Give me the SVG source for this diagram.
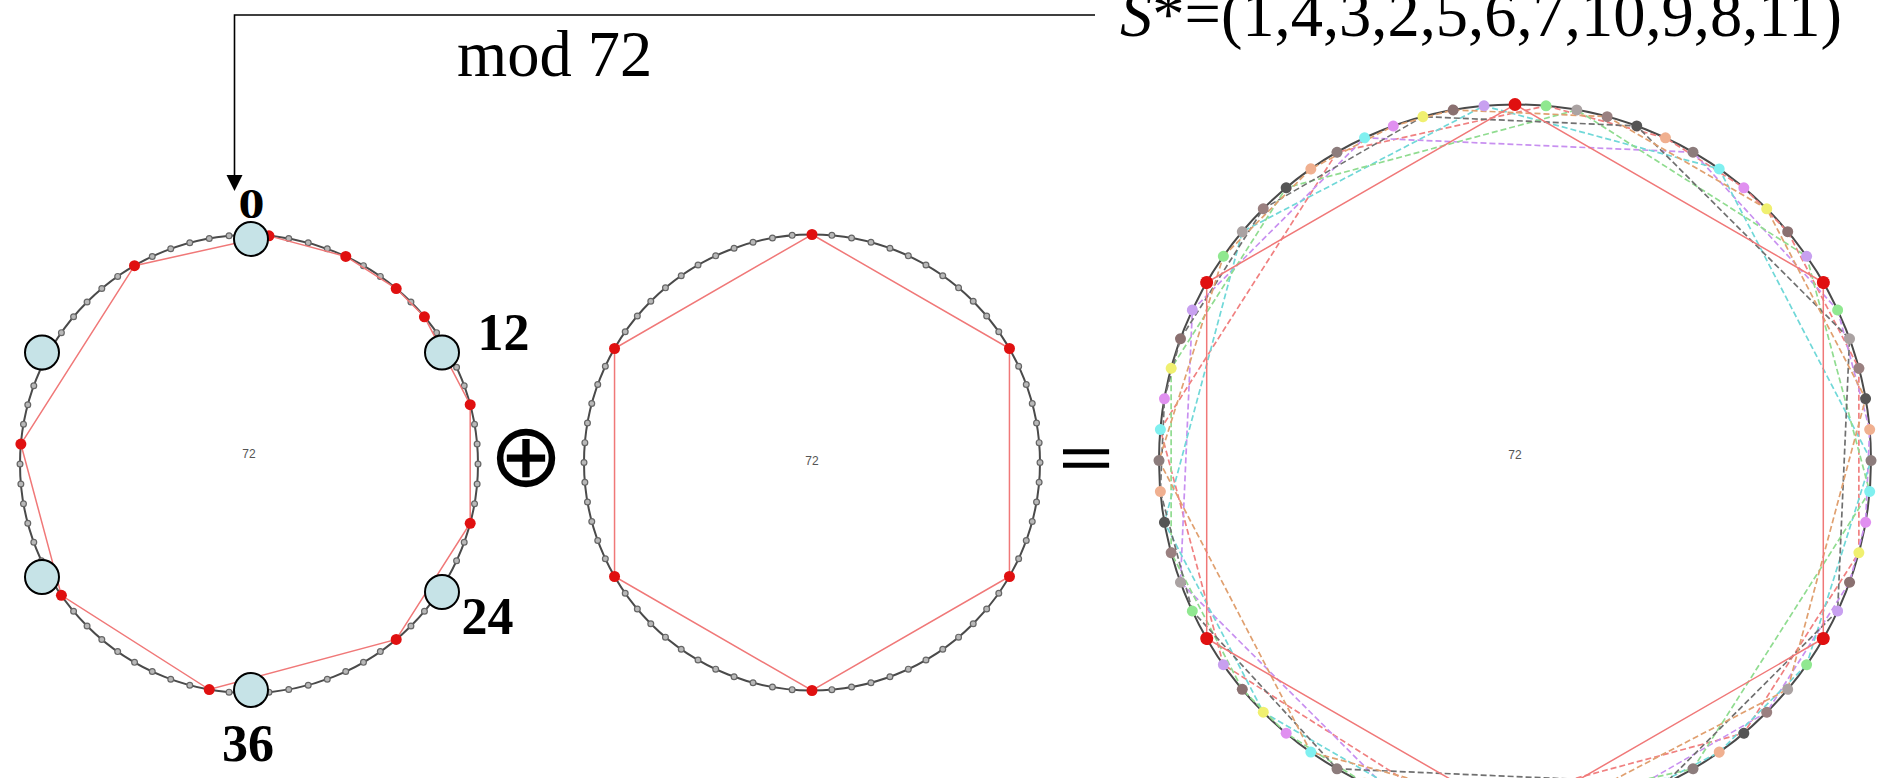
<svg xmlns="http://www.w3.org/2000/svg" xmlns:xlink="http://www.w3.org/1999/xlink" width="1887" height="778" viewBox="0 0 1887 778">
<style>
.ring{fill:none;stroke:#4a4a4a;stroke-width:2}
.gdo{fill:none;stroke:#666;stroke-width:7;stroke-linecap:round;stroke-dasharray:0 1}
.gdi{fill:none;stroke:#b8b8b8;stroke-width:4.6;stroke-linecap:round;stroke-dasharray:0 1}
.red{fill:#e01010}
.poly{fill:none;stroke:#f07878;stroke-width:1.5}
.node{fill:#c6e3e7;stroke:#000;stroke-width:2}
.lbl{font-family:"Liberation Serif","Times New Roman",serif;font-weight:bold;font-size:52px;text-anchor:middle;fill:#000}
.big{font-family:"Liberation Serif","Times New Roman",serif;font-size:64.5px;fill:#000}
.c72{font-family:"Liberation Sans",Arial,sans-serif;font-size:12px;fill:#555;text-anchor:middle}
.cp{fill:none;stroke-width:1.7;stroke-dasharray:6 3}
.conn{fill:none;stroke:#000;stroke-width:1.6}
</style>
<defs>
<polygon id="pr" fill="none" points="1546.03,105.86 1665.45,137.85 1743.83,187.79 1787.71,231.67 1858.87,368.36 1858.87,552.64 1743.83,733.21 1453.18,811.09 1223.38,664.69 1160.36,429.47 1337,152.19"/>
</defs>
<rect width="1887" height="778" fill="#fff"/>

<g id="connectors">
<path class="conn" d="M1095,15 H234.5 V176"/>
<path d="M226.5,175 L242.5,175 L234.5,191 Z" fill="#000"/>
</g>

<g id="title-labels">
<text class="big" x="457" y="76">mod 72</text>
<text class="big" x="1120" y="36"><tspan font-style="italic">S</tspan>*=(1,4,3,2,5,6,7,10,9,8,11)</text>
</g>

<g id="left-circle">
<circle class="ring" cx="249" cy="464" r="229"/>
<circle class="gdo" cx="249" cy="464" r="229" pathLength="72"/>
<circle class="gdi" cx="249" cy="464" r="229" pathLength="72"/>
<polygon class="poly" points="268.96,235.87 345.78,256.46 396.2,288.58 424.42,316.8 470.2,404.73 470.2,523.27 396.2,639.42 209.23,689.52 61.41,595.35 20.87,444.04 134.5,265.68"/>
<g class="red">
<circle cx="268.96" cy="235.87" r="5.5"/><circle cx="345.78" cy="256.46" r="5.5"/><circle cx="396.2" cy="288.58" r="5.5"/><circle cx="424.42" cy="316.8" r="5.5"/><circle cx="470.2" cy="404.73" r="5.5"/><circle cx="470.2" cy="523.27" r="5.5"/><circle cx="396.2" cy="639.42" r="5.5"/><circle cx="209.23" cy="689.52" r="5.5"/><circle cx="61.41" cy="595.35" r="5.5"/><circle cx="20.87" cy="444.04" r="5.5"/><circle cx="134.5" cy="265.68" r="5.5"/>
</g>
<text class="c72" x="249" y="458">72</text>
</g>

<g id="node-0"><circle class="node" cx="251" cy="239" r="17"/><text class="lbl" transform="translate(251.5,218) scale(1,0.8)" x="0" y="0">0</text></g>
<g id="node-12"><circle class="node" cx="442" cy="352.5" r="17"/><text class="lbl" x="503.5" y="350">12</text></g>
<g id="node-24"><circle class="node" cx="442" cy="592" r="17"/><text class="lbl" x="487.5" y="634">24</text></g>
<g id="node-36"><circle class="node" cx="251" cy="690" r="17"/><text class="lbl" x="248" y="761">36</text></g>
<g id="node-48"><circle class="node" cx="42" cy="577" r="17"/></g>
<g id="node-60"><circle class="node" cx="42" cy="352.5" r="17"/></g>

<g id="oplus"><text x="526" y="486" font-family="DejaVu Sans,sans-serif" font-size="89" text-anchor="middle" fill="#000">⊕</text></g>

<g id="middle-circle">
<circle class="ring" cx="812" cy="462.5" r="228"/>
<circle class="gdo" cx="812" cy="462.5" r="228" pathLength="72"/>
<circle class="gdi" cx="812" cy="462.5" r="228" pathLength="72"/>
<polygon class="poly" points="812,234.5 1009.45,348.5 1009.45,576.5 812,690.5 614.55,576.5 614.55,348.5"/>
<g class="red">
<circle cx="812" cy="234.5" r="5.5"/><circle cx="1009.45" cy="348.5" r="5.5"/><circle cx="1009.45" cy="576.5" r="5.5"/><circle cx="812" cy="690.5" r="5.5"/><circle cx="614.55" cy="576.5" r="5.5"/><circle cx="614.55" cy="348.5" r="5.5"/>
</g>
<text class="c72" x="812" y="465">72</text>
</g>

<g id="equals"><text transform="translate(1086,481) scale(1,0.72)" x="0" y="0" font-family="Liberation Serif,serif" font-size="94" text-anchor="middle" fill="#000" stroke="#000" stroke-width="2.4">=</text></g>

<g id="right-circle">
<circle class="ring" cx="1515" cy="460.5" r="356"/>
<g id="copies">
<use xlink:href="#pr" class="cp" stroke="#f08080"/>
<use xlink:href="#pr" class="cp" stroke="#c890f0" transform="rotate(60 1515 460.5)"/>
<use xlink:href="#pr" class="cp" stroke="#70d8d8" transform="rotate(120 1515 460.5)"/>
<use xlink:href="#pr" class="cp" stroke="#90dc90" transform="rotate(180 1515 460.5)"/>
<use xlink:href="#pr" class="cp" stroke="#707070" transform="rotate(240 1515 460.5)"/>
<use xlink:href="#pr" class="cp" stroke="#e0a070" transform="rotate(300 1515 460.5)"/>
</g>
<polygon class="poly" stroke="#e85a5a" points="1515,104.5 1823.3,282.5 1823.3,638.5 1515,816.5 1206.7,638.5 1206.7,282.5"/>
<g id="rblk">
<circle cx="1515" cy="104.5" r="6.5" fill="#e01010"/>
<circle cx="1546.03" cy="105.86" r="5.5" fill="#90e890"/>
<circle cx="1576.82" cy="109.91" r="5.5" fill="#aaa2a2"/>
<circle cx="1607.14" cy="116.63" r="5.5" fill="#9a8080"/>
<circle cx="1636.76" cy="125.97" r="5.5" fill="#555"/>
<circle cx="1665.45" cy="137.85" r="5.5" fill="#f0b090"/>
<circle cx="1693" cy="152.19" r="5.5" fill="#8c7c7c"/>
<circle cx="1719.19" cy="168.88" r="5.5" fill="#80f0f0"/>
<circle cx="1743.83" cy="187.79" r="5.5" fill="#e090f0"/>
<circle cx="1766.73" cy="208.77" r="5.5" fill="#f0f070"/>
<circle cx="1787.71" cy="231.67" r="5.5" fill="#8a7070"/>
<circle cx="1806.62" cy="256.31" r="5.5" fill="#c8a0f0"/>
</g>
<use xlink:href="#rblk" transform="rotate(60 1515 460.5)"/>
<use xlink:href="#rblk" transform="rotate(120 1515 460.5)"/>
<use xlink:href="#rblk" transform="rotate(180 1515 460.5)"/>
<use xlink:href="#rblk" transform="rotate(240 1515 460.5)"/>
<use xlink:href="#rblk" transform="rotate(300 1515 460.5)"/>
<text class="c72" x="1515" y="459" font-size="14" fill="#444">72</text>
</g>
</svg>
